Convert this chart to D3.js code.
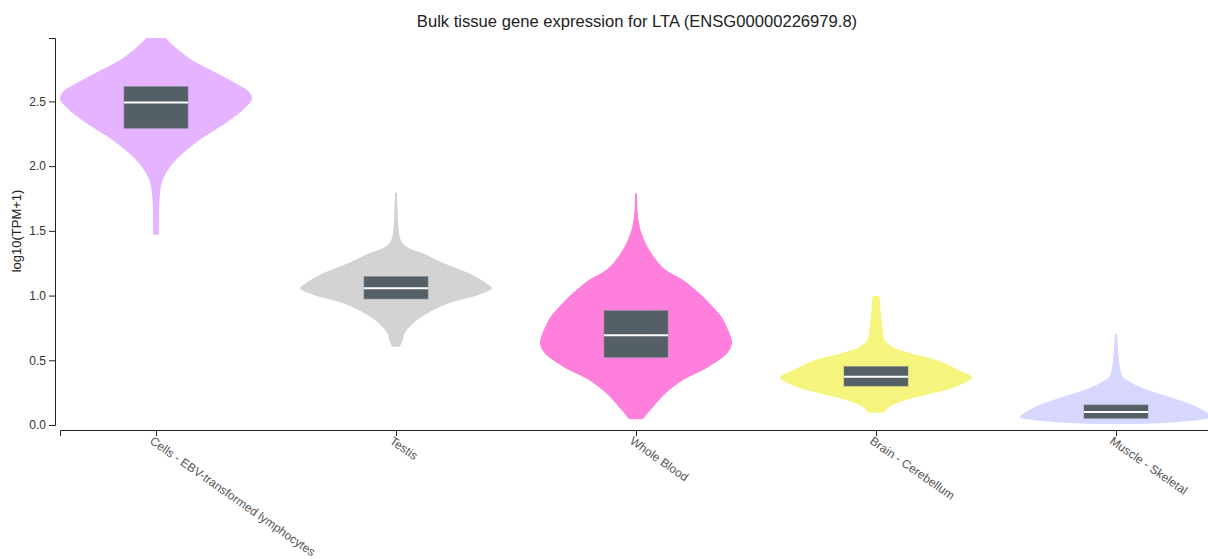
<!DOCTYPE html>
<html>
<head>
<meta charset="utf-8">
<script src="https://cdn.jsdelivr.net/npm/d3@7"></script>
<style>
  html, body { margin: 0; padding: 0; background: #fff; }
  svg { display: block; font-family: "Liberation Sans", Arial, sans-serif; }
</style>
</head>
<body>
<svg id="chart" width="1208" height="559"></svg>
<script>
// Tissues in display order
const tissues = ["Cells - EBV-transformed lymphocytes", "Testis", "Whole Blood", "Brain - Cerebellum", "Muscle - Skeletal"];
const colors = ["#e5b3ff", "#d3d3d3", "#ff80dc", "#f5f57e", "#d6d6ff"];

// Density profiles: [log10(TPM+1), relative density]
const densityLymphocytes = [[1.47,0.03],[1.51,0.03],[1.72,0.035],[1.87,0.06],[1.97,0.125],[2.05,0.21],[2.13,0.33],[2.23,0.51],[2.33,0.72],[2.43,0.90],[2.52,1.0],[2.58,0.96],[2.64,0.83],[2.72,0.63],[2.80,0.42],[2.90,0.23],[2.99,0.10]];
const densityTestis = [[0.605,0.04],[0.657,0.07],[0.709,0.09],[0.786,0.18],[0.863,0.33],[0.94,0.55],[1.005,0.86],[1.056,1.0],[1.095,0.94],[1.172,0.76],[1.25,0.50],[1.327,0.28],[1.378,0.11],[1.43,0.05],[1.507,0.028],[1.636,0.018],[1.795,0.01]];
const densityBlood = [[0.044,0.07],[0.141,0.18],[0.245,0.31],[0.348,0.49],[0.451,0.76],[0.554,0.95],[0.631,1.0],[0.734,0.96],[0.837,0.89],[0.914,0.80],[1.018,0.66],[1.121,0.49],[1.198,0.31],[1.275,0.21],[1.378,0.12],[1.507,0.047],[1.636,0.018],[1.79,0.01]];
const densityCerebellum = [[0.095,0.08],[0.141,0.14],[0.193,0.31],[0.245,0.59],[0.296,0.83],[0.366,1.0],[0.425,0.86],[0.502,0.63],[0.554,0.36],[0.605,0.17],[0.657,0.09],[0.734,0.07],[0.863,0.05],[0.997,0.036]];
const densityMuscle = [[0.008,0.25],[0.018,0.52],[0.039,0.86],[0.06,1.0],[0.09,0.96],[0.155,0.80],[0.219,0.55],[0.270,0.33],[0.322,0.17],[0.373,0.07],[0.451,0.04],[0.554,0.024],[0.703,0.012]];
const densities = [densityLymphocytes, densityTestis, densityBlood, densityCerebellum, densityMuscle];

// Quartiles per tissue
const q1 = [2.293, 0.974, 0.523, 0.301, 0.052];
const medians = [2.491, 1.056, 0.693, 0.373, 0.100];
const q3 = [2.614, 1.146, 0.883, 0.451, 0.155];

const yTicks = [0, 0.5, 1.0, 1.5, 2.0, 2.5];
const yMax = 2.99;

const svg = d3.select("#chart");

const x = d3.scalePoint().domain(tissues).range([60, 1212]).padding(0.4);
const y = d3.scaleLinear().domain([0, yMax]).range([425, 38]);
const w = d3.scaleLinear().domain([0, 1]).range([0, 96]);
const boxHalf = 32;

// Title
svg.append("text")
  .attr("x", 637).attr("y", 27)
  .attr("text-anchor", "middle")
  .attr("font-size", 16.6)
  .attr("fill", "#222")
  .text("Bulk tissue gene expression for LTA (ENSG00000226979.8)");

// Violins
const area = d3.area()
  .curve(d3.curveCatmullRom)
  .y(d => y(d[0]));

tissues.forEach((t, i) => {
  const cx = x(t);
  svg.append("path")
    .datum(densities[i])
    .attr("fill", colors[i])
    .attr("d", area.x0(d => cx - w(d[1])).x1(d => cx + w(d[1])));
});

// Boxes and medians
tissues.forEach((t, i) => {
  const cx = x(t);
  svg.append("rect")
    .attr("x", cx - boxHalf)
    .attr("width", boxHalf * 2)
    .attr("y", y(q3[i]))
    .attr("height", y(q1[i]) - y(q3[i]))
    .attr("fill", "#555f66")
    .attr("stroke", "#7d858b")
    .attr("stroke-width", 0.6);
  svg.append("line")
    .attr("x1", cx - boxHalf).attr("x2", cx + boxHalf)
    .attr("y1", y(medians[i])).attr("y2", y(medians[i]))
    .attr("stroke", "#fff")
    .attr("stroke-width", 2);
});

// Y axis
const yAxis = svg.append("g")
  .attr("transform", "translate(55,0)")
  .call(d3.axisLeft(y).tickValues(yTicks).tickFormat(d3.format(".1f")).tickSizeOuter(6));
yAxis.selectAll("text").attr("font-size", 12).attr("fill", "#333").style("font-family", "Liberation Sans, Arial, sans-serif");
yAxis.selectAll("path, line").attr("stroke", "#222");

svg.append("text")
  .attr("transform", "translate(21,231) rotate(-90)")
  .attr("text-anchor", "middle")
  .attr("font-size", 13)
  .attr("fill", "#222")
  .text("log10(TPM+1)");

// X axis
const xAxis = svg.append("g")
  .attr("transform", "translate(0,430)")
  .call(d3.axisBottom(x).tickSizeOuter(6));
xAxis.selectAll("path, line").attr("stroke", "#222");
xAxis.selectAll("text")
  .attr("font-size", 12)
  .attr("fill", "#555")
  .style("font-family", "Liberation Sans, Arial, sans-serif")
  .attr("text-anchor", "start")
  .attr("dy", "0.35em")
  .attr("transform", "translate(0,2) rotate(35)");
</script>
</body>
</html>
